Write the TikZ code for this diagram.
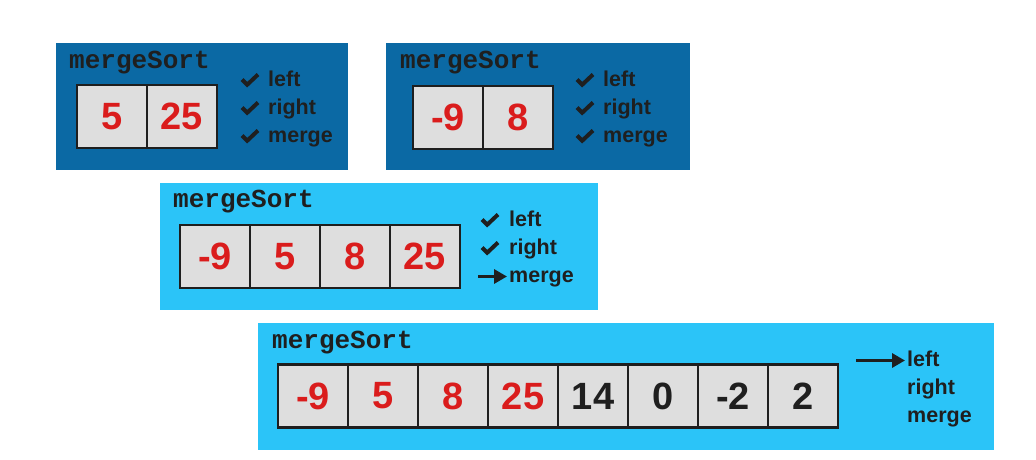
\documentclass[tikz,border=0pt]{standalone}
\usepackage{fontspec}
\setmainfont{Liberation Sans}
\newfontfamily\codefont{Liberation Mono}
\usepackage{xcolor}
\usepackage{tikz}
\usetikzlibrary{arrows.meta}
\usetikzlibrary{positioning}

\definecolor{callDark}{HTML}{0B69A4}
\definecolor{callLight}{HTML}{2BC4F8}
\definecolor{cellGray}{HTML}{DEDEDE}
\definecolor{cellLine}{HTML}{1E1E1E}
\definecolor{numRed}{HTML}{DA1C1C}
\definecolor{inkDark}{HTML}{1F1F1F}

\tikzset{
    callbox/.style={anchor=north west, inner sep=0pt, minimum height=127pt},
    cell/.style={draw=cellLine, line width=2.4pt, fill=cellGray, inner sep=0pt,
        minimum width=70pt, minimum height=63pt,
        font=\fontsize{38}{38}\selectfont\bfseries},
    fname/.style={anchor=base west, inner sep=0pt, text=inkDark,
        font=\codefont\fontsize{26}{26}\selectfont\bfseries},
    lbl/.style={anchor=west, inner sep=0pt, text height=15pt, text depth=4pt,
        text=inkDark, font=\fontsize{21.5}{21.5}\selectfont\bfseries},
    tickmark/.pic={
        \draw[inkDark, line width=4pt, line join=miter] (-8,-1) -- (-2.8,4.2) -- (8,-6);
    },
    pointer/.style={-{Triangle[length=13pt, width=14pt]}, line width=3.2pt, draw=inkDark, shorten >=2pt}
}

\begin{document}
\begin{tikzpicture}[x=1pt, y=-1pt]
    \fill[white] (0,0) rectangle (1036,460);
    \useasboundingbox (0,0) rectangle (1036,460);

    % Call on [5, 25]
    \node[callbox, fill=callDark, minimum width=292pt] (sortA) at (56,43) {};
    \node[fname] (nameA) at (69,69) {mergeSort};
    \foreach \v [count=\i] in {5,25}
        \node[cell, text=numRed] (a\i) at (77+\i*70-35, 116.5) {\v};
    \node[lbl] (aLeft) at (268,80.5) {left};
    \node[lbl] (aRight) at (268,108.5) {right};
    \node[lbl] (aMerge) at (268,136.5) {merge};
    \foreach \n in {aLeft,aRight,aMerge}
        \path (\n.west) ++(-18,0) pic {tickmark};

    % Call on [-9, 8]
    \node[callbox, fill=callDark, minimum width=304pt] (sortB) at (386,43) {};
    \node[fname] (nameB) at (400,69) {mergeSort};
    \foreach \v [count=\i] in {-9,8}
        \node[cell, text=numRed] (b\i) at (413+\i*70-35, 117.5) {\v};
    \node[lbl] (bLeft) at (603,80.5) {left};
    \node[lbl] (bRight) at (603,108.5) {right};
    \node[lbl] (bMerge) at (603,136.5) {merge};
    \foreach \n in {bLeft,bRight,bMerge}
        \path (\n.west) ++(-18,0) pic {tickmark};

    % Call on [-9, 5, 8, 25]
    \node[callbox, fill=callLight, minimum width=438pt] (sortC) at (160,183) {};
    \node[fname] (nameC) at (173,207) {mergeSort};
    \foreach \v [count=\i] in {-9,5,8,25}
        \node[cell, text=numRed] (c\i) at (180+\i*70-35, 256.5) {\v};
    \node[lbl] (cLeft) at (509,220.5) {left};
    \node[lbl] (cRight) at (509,248.5) {right};
    \node[lbl] (cMerge) at (509,276.5) {merge};
    \foreach \n in {cLeft,cRight}
        \path (\n.west) ++(-19,0) pic {tickmark};
    \coordinate (cArrow) at (478,276.5);
    \draw[pointer] (cArrow) -- (cMerge.west);

    % Call on the whole array
    \node[callbox, fill=callLight, minimum width=736pt] (sortD) at (258,323) {};
    \node[fname] (nameD) at (272,348) {mergeSort};
    \foreach \v/\c [count=\i] in {-9/numRed,5/numRed,8/numRed,25/numRed,14/inkDark,0/inkDark,-2/inkDark,2/inkDark}
        \node[cell, text=\c] (d\i) at (278+\i*70-35, 396) {\v};
    \node[lbl] (dLeft) at (907,360.5) {left};
    \node[lbl] (dRight) at (907,388.5) {right};
    \node[lbl] (dMerge) at (907,416.5) {merge};
    \coordinate (dArrow) at (856,360.5);
    \draw[pointer] (dArrow) -- (dLeft.west);
\end{tikzpicture}
\end{document}
